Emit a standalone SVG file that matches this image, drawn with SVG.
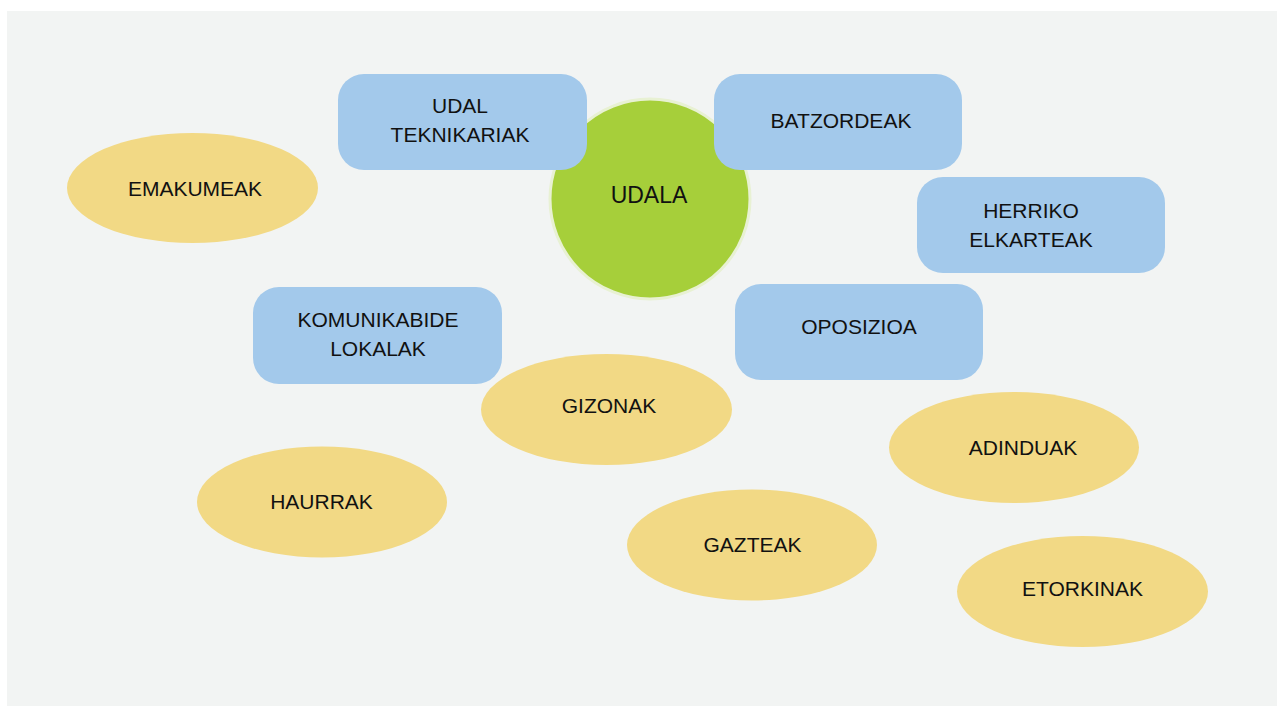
<svg xmlns="http://www.w3.org/2000/svg" width="1277" height="706" viewBox="0 0 1277 706">
<style>
.box{fill:#a3c9eb}
.ell{fill:#f2d985}
.ctr{fill:#a6cf3a;stroke:#e8f1d3;stroke-width:3}
text{font-family:"Liberation Sans",Arial,sans-serif;font-size:21px;fill:#111;text-anchor:middle}
.big{font-size:23px}
</style>
<rect x="0" y="0" width="1277" height="706" fill="#ffffff"/>
<rect x="7" y="11" width="1270" height="695" fill="#f2f4f3"/>
<g id="connectors"></g>
<g id="udala"><circle class="ctr" cx="650" cy="199" r="100"/><text class="big" x="649" y="203">UDALA</text></g>
<g id="udal-teknikariak"><rect class="box" x="338" y="74" width="249" height="96" rx="26"/><text x="460" y="113">UDAL</text><text x="460" y="142">TEKNIKARIAK</text></g>
<g id="batzordeak"><rect class="box" x="714" y="74" width="248" height="96" rx="26"/><text x="841" y="128">BATZORDEAK</text></g>
<g id="herriko-elkarteak"><rect class="box" x="917" y="177" width="248" height="96" rx="26"/><text x="1031" y="218">HERRIKO</text><text x="1031" y="247">ELKARTEAK</text></g>
<g id="komunikabide-lokalak"><rect class="box" x="253" y="287" width="249" height="97" rx="26"/><text x="378" y="327">KOMUNIKABIDE</text><text x="378" y="356">LOKALAK</text></g>
<g id="oposizioa"><rect class="box" x="735" y="284" width="248" height="96" rx="26"/><text x="859" y="334">OPOSIZIOA</text></g>
<g id="emakumeak"><ellipse class="ell" cx="192.5" cy="188" rx="125.5" ry="55"/><text x="195" y="196">EMAKUMEAK</text></g>
<g id="gizonak"><ellipse class="ell" cx="606.5" cy="409.5" rx="125.5" ry="55.5"/><text x="609" y="413">GIZONAK</text></g>
<g id="adinduak"><ellipse class="ell" cx="1014" cy="447.5" rx="125" ry="55.5"/><text x="1023" y="455">ADINDUAK</text></g>
<g id="haurrak"><ellipse class="ell" cx="322" cy="502" rx="125" ry="55.5"/><text x="321.5" y="509">HAURRAK</text></g>
<g id="gazteak"><ellipse class="ell" cx="752" cy="545" rx="125" ry="55.5"/><text x="752.5" y="552">GAZTEAK</text></g>
<g id="etorkinak"><ellipse class="ell" cx="1082.5" cy="591.5" rx="125.5" ry="55.5"/><text x="1082.5" y="596">ETORKINAK</text></g>
</svg>
